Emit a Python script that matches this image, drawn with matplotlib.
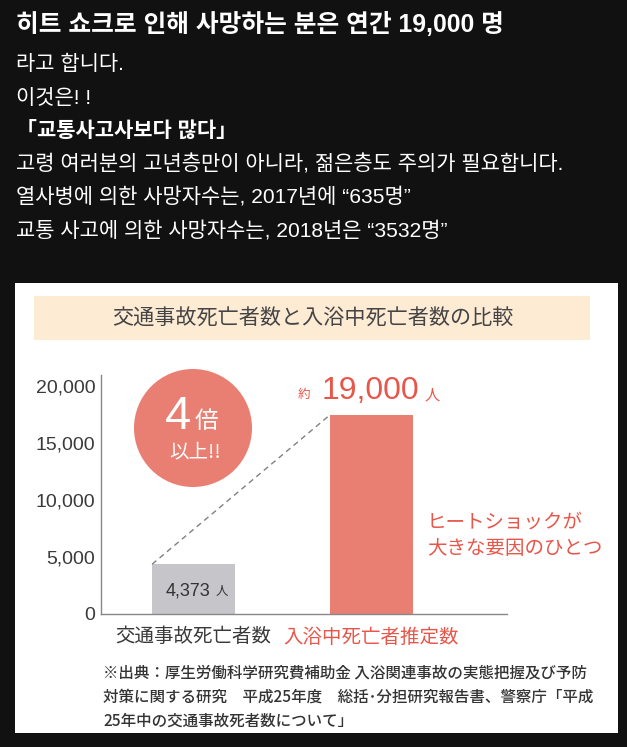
import matplotlib
matplotlib.use("Agg")
import matplotlib.pyplot as plt
from matplotlib.patches import Rectangle, Circle
from matplotlib.ticker import FuncFormatter

# ---- data ----
categories = ["交通事故死亡者数", "入浴中死亡者推定数"]
values = [4373, 17500]
value_labels = ["4,373", "19,000"]
yticks = [0, 5000, 10000, 15000, 20000]
chart_title = "交通事故死亡者数と入浴中死亡者数の比較"
ratio_text = ["4", "倍", "以上!!"]
note_text = ["ヒートショックが", "大きな要因のひとつ"]
source_lines = [
    "※出典：厚生労働科学研究費補助金 入浴関連事故の実態把握及び予防",
    "対策に関する研究　平成25年度　総括･分担研究報告書、警察庁「平成",
    "25年中の交通事故死者数について」",
]
kr_title = "히트 쇼크로 인해 사망하는 분은 연간 19,000 명"
kr_lines = [
    ("라고 합니다.", False),
    ("이것은! !", False),
    ("「교통사고사보다 많다」", True),
    ("고령 여러분의 고년층만이 아니라, 젊은층도 주의가 필요합니다.", False),
    ("열사병에 의한 사망자수는, 2017년에 “635명”", False),
    ("교통 사고에 의한 사망자수는, 2018년은 “3532명”", False),
]

W, H = 627, 747
BG = "#111111"
RED_BAR = "#e97f72"
RED_TXT = "#e8564a"
GRAY_BAR = "#c5c5ca"
DARK = "#3a3a3a"
JP = ["Noto Sans CJK JP", "DejaVu Sans"]
KR = ["Liberation Sans", "Noto Sans CJK KR"]
NUM = ["Liberation Sans", "Noto Sans CJK JP"]

fig = plt.figure(figsize=(W / 100, H / 100), dpi=100, facecolor=BG)

# background axes in pixel coords
bg = fig.add_axes([0, 0, 1, 1], zorder=0)
bg.set_xlim(0, W)
bg.set_ylim(H, 0)
bg.axis("off")
bg.set_facecolor(BG)

# Korean text
bg.text(16, 24, kr_title, color="white", fontsize=17.8, fontweight="bold",
        family=KR, va="center", ha="left")
ys = [64, 98, 131, 164, 197, 231]
for (t, b), y in zip(kr_lines, ys):
    bg.text(16, y, t, color="white", fontsize=15.1,
            fontweight="bold" if b else "normal", family=KR, va="center", ha="left")

# white panel and header band
bg.add_patch(Rectangle((15, 283), 603, 450, facecolor="white", edgecolor="none"))
bg.add_patch(Rectangle((34, 296), 556, 44, facecolor="#fdebd4", edgecolor="none"))
bg.text(313, 319, chart_title, color="#444444", fontsize=15.2, family=JP,
        ha="center", va="center")

# circle badge
bg.add_patch(Circle((193, 428), 59, facecolor=RED_BAR, edgecolor="none"))
bg.text(178, 417, ratio_text[0], color="white", fontsize=34, family=NUM,
        ha="center", va="center")
bg.text(206, 422, ratio_text[1], color="white", fontsize=17, family=JP,
        ha="center", va="center")
bg.text(195, 452, ratio_text[2], color="white", fontsize=14, family=JP,
        ha="center", va="center")

# annotation near red bar
bg.text(304, 394, "約", color=RED_TXT, fontsize=9, family=JP, ha="center", va="center")
bg.text(370, 391, value_labels[1], color=RED_TXT, fontsize=23, family=NUM,
        ha="center", va="center")
bg.text(432, 395, "人", color=RED_TXT, fontsize=11, family=JP, ha="center", va="center")

bg.text(427, 522, note_text[0], color=RED_TXT, fontsize=14, family=JP,
        ha="left", va="center")
bg.text(427, 549, note_text[1], color=RED_TXT, fontsize=14, family=JP,
        ha="left", va="center")

# source footnote
for i, line in enumerate(source_lines):
    bg.text(103, 673 + 24 * i, line, color="#333333", fontsize=11.2, family=JP,
            fontweight="medium", ha="left", va="center")

# ---- data axes ----
ax_l, ax_r, ax_b, ax_t = 101, 507, 614, 375
ax = fig.add_axes([ax_l / W, 1 - ax_b / H, (ax_r - ax_l) / W, (ax_b - ax_t) / H],
                  zorder=1)
ax.set_facecolor("none")
x = [0, 1]
bw = 0.466
ax.bar(x, values, width=bw, color=[GRAY_BAR, RED_BAR], zorder=2)
ax.set_xlim(-0.52, 1.761)
ax.set_ylim(0, 21000)
ax.plot([x[0] - bw / 2, x[1] - bw / 2], [values[0], values[1]],
        linestyle=(0, (4, 3)), color="#808080", linewidth=1.0, zorder=3)

ax.text(x[0] - 0.03, values[0] / 2 - 150, value_labels[0], color="#333333",
        fontsize=13, family=NUM, ha="center", va="center")
ax.text(x[0] + 0.16, values[0] / 2 - 250, "人", color="#333333",
        fontsize=9, family=JP, ha="center", va="center")

for s in ["top", "right"]:
    ax.spines[s].set_visible(False)
for s in ["left", "bottom"]:
    ax.spines[s].set_color("#888888")
    ax.spines[s].set_linewidth(1.0)
ax.set_yticks(yticks)
ax.yaxis.set_major_formatter(FuncFormatter(lambda v, p: f"{int(v):,}"))
ax.tick_params(axis="y", length=0, pad=4, labelsize=14, labelcolor=DARK)
for lab in ax.get_yticklabels():
    lab.set_family(NUM)
ax.set_xticks(x)
ax.set_xticklabels(categories)
ax.tick_params(axis="x", length=0, pad=9, labelsize=14)
xl = ax.get_xticklabels()
for lab, c in zip(xl, [DARK, RED_TXT]):
    lab.set_color(c)
    lab.set_family(JP)

fig.savefig("out.png", dpi=100, facecolor=BG)
